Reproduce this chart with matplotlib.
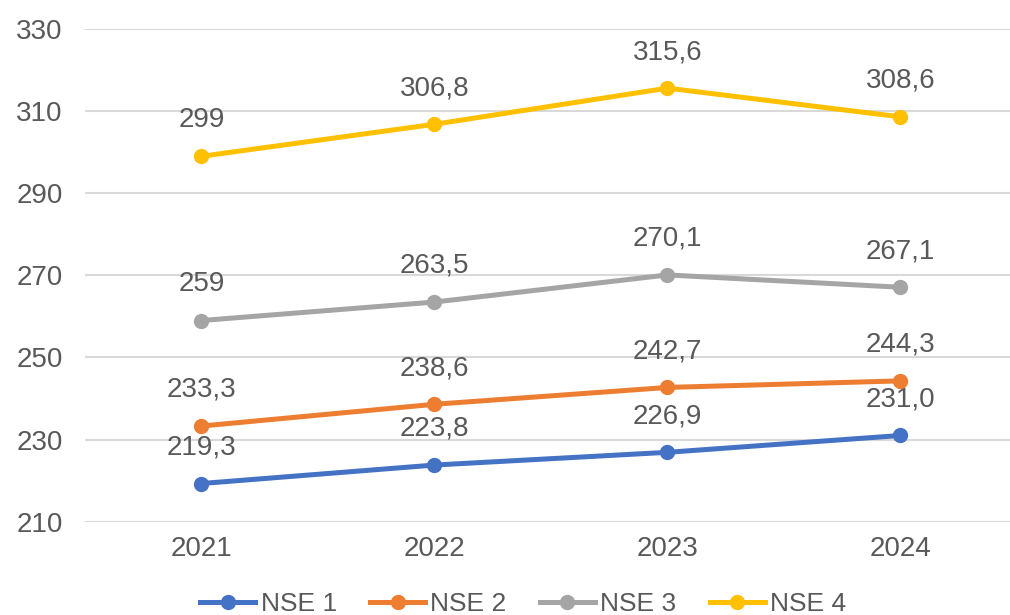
import matplotlib
matplotlib.use("Agg")
import matplotlib.pyplot as plt
from matplotlib.lines import Line2D

# data
years = ["2021", "2022", "2023", "2024"]
series_names = ["NSE 1", "NSE 2", "NSE 3", "NSE 4"]
nse1 = [219.3, 223.8, 226.9, 231.0]
nse2 = [233.3, 238.6, 242.7, 244.3]
nse3 = [259.0, 263.5, 270.1, 267.1]
nse4 = [299.0, 306.8, 315.6, 308.6]
labels1 = ["219,3", "223,8", "226,9", "231,0"]
labels2 = ["233,3", "238,6", "242,7", "244,3"]
labels3 = ["259", "263,5", "270,1", "267,1"]
labels4 = ["299", "306,8", "315,6", "308,6"]
y_ticks = [210, 230, 250, 270, 290, 310, 330]

colors = ["#4472C4", "#ED7D31", "#A5A5A5", "#FFC000"]
txt_color = "#595959"

plt.rcParams['font.family'] = ['Liberation Sans', 'DejaVu Sans']

fig = plt.figure(figsize=(10.1, 6.15), dpi=100)
ax = fig.add_axes([85 / 1010, 1 - 521.7 / 615, (1010 - 85) / 1010, (521.7 - 29) / 615])

x = list(range(len(years)))
all_vals = [nse1, nse2, nse3, nse4]
all_labels = [labels1, labels2, labels3, labels4]

for vals, labs, c in zip(all_vals, all_labels, colors):
    ax.plot(x, vals, color=c, lw=3.6, marker='o', ms=10, solid_capstyle='round', zorder=3)
    for xi, v, t in zip(x, vals, labs):
        ax.annotate(t, (xi, v), xytext=(0, 26), textcoords='offset points',
                    ha='center', va='center', fontsize=20, color=txt_color)

ax.set_xlim(-0.5, 3.47)
ax.set_ylim(210, 330)
ax.set_yticks(y_ticks)
ax.set_xticks(x)
ax.set_xticklabels(years)
ax.grid(axis='y', color='#D9D9D9', lw=1.5)
ax.set_axisbelow(True)
for s in ax.spines.values():
    s.set_visible(False)
ax.tick_params(axis='both', length=0, labelsize=20, colors=txt_color)
ax.tick_params(axis='y', pad=16)
ax.tick_params(axis='x', pad=10)

handles = [Line2D([], [], color=c, lw=3.6, marker='o', ms=10) for c in colors]
fig.legend(handles, series_names, loc='center', bbox_to_anchor=(0.518, 0.018), ncol=4,
           frameon=False, fontsize=19, handlelength=2.1, handletextpad=0.2,
           columnspacing=1.25, labelcolor=txt_color, borderpad=0, borderaxespad=0)

fig.savefig("out.png", dpi=100)
